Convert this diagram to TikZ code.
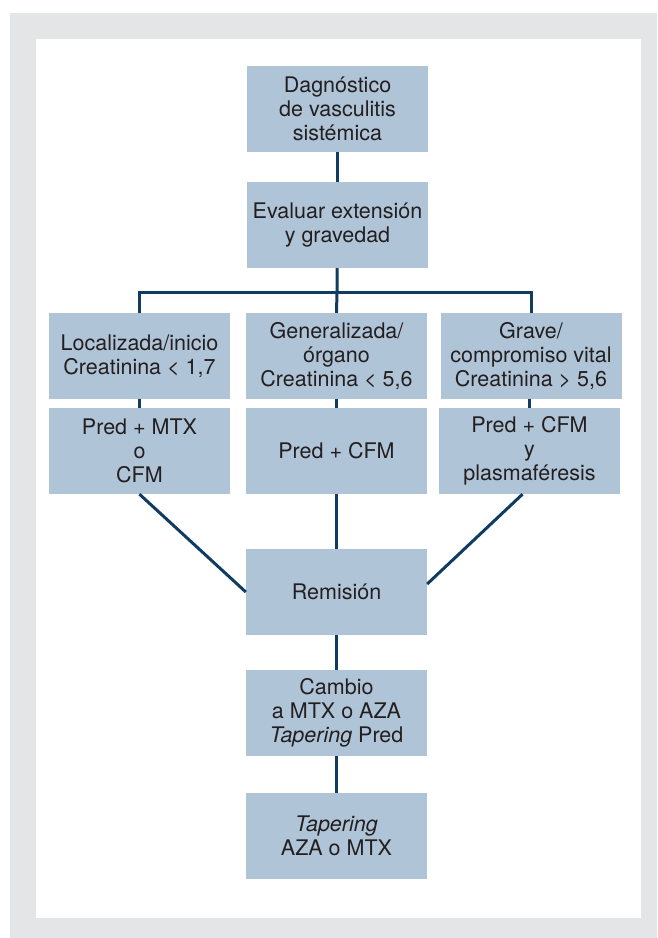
\documentclass[tikz,border=0pt]{standalone}
\usepackage{fontspec}
\setmainfont{TeX Gyre Heros}
\definecolor{boxblue}{RGB}{176,196,216}
\definecolor{linenavy}{RGB}{16,60,98}
\definecolor{framegray}{RGB}{228,229,231}
\definecolor{textgray}{RGB}{35,31,32}
\begin{document}
\begin{tikzpicture}[x=1pt, y=-1pt, font=\fontsize{21.5}{24}\selectfont]
    \tikzstyle{box_style} = [fill=boxblue, text=textgray, align=center, inner sep=0pt, minimum width=181pt, minimum height=86pt]
    \tikzstyle{navy_line} = [linenavy, line width=3pt]

    % frame
    \useasboundingbox (0,0) rectangle (657,938);
    \fill[white] (0,0) rectangle (657,938);
    \fill[framegray] (10,13) rectangle (657,938);
    \fill[white] (36,39) rectangle (641,918);

    \node[box_style] (nDiag) at (337.5,109) {Dagnóstico\\de vasculitis\\sistémica};
    \node[box_style] (nEval) at (337.5,225) {Evaluar extensión\\y gravedad};

    \node[box_style] (nLoc) at (139.5,356) {Localizada/inicio\\Creatinina < 1,7};
    \node[box_style] (nGen) at (336.5,356) {Generalizada/\\órgano\\Creatinina < 5,6};
    \node[box_style] (nGrav) at (531,356) {Grave/\\compromiso vital\\Creatinina > 5,6};

    \node[box_style] (nLocT) at (139.5,451) {Pred + MTX\\o\\CFM};
    \node[box_style] (nGenT) at (336.5,451) {Pred + CFM};
    \node[box_style] (nGravT) at (529.5,451) {Pred + CFM\\y\\plasmaféresis};

    \node[box_style] (nRem) at (336.5,592) {Remisión};
    \node[box_style] (nCamb) at (336.5,713) {Cambio\\a MTX o AZA\\\textit{Tapering} Pred};
    \node[box_style] (nTaper) at (336.5,836) {\textit{Tapering}\\AZA o MTX};

    \coordinate (bar) at (337,292);

    \draw[navy_line] (nDiag) -- (nEval);
    \draw[navy_line] (nEval) -- (bar);
    \draw[navy_line] (nLoc.north) |- (bar) -| (nGrav.north);
    \draw[navy_line] (bar) -- (nGen.north);

    \draw[navy_line] (nLoc) -- (nLocT);
    \draw[navy_line] (nGen) -- (nGenT);
    \draw[navy_line] (nGrav.south -| nGravT) -- (nGravT);

    \draw[navy_line] (nLocT.south) -- (nRem.west);
    \draw[navy_line] ([xshift=-7pt]nGravT.south) -- ([yshift=8pt]nRem.east);
    \draw[navy_line] (nGenT) -- (nRem);
    \draw[navy_line] (nRem) -- (nCamb);
    \draw[navy_line] (nCamb) -- (nTaper);
\end{tikzpicture}
\end{document}
